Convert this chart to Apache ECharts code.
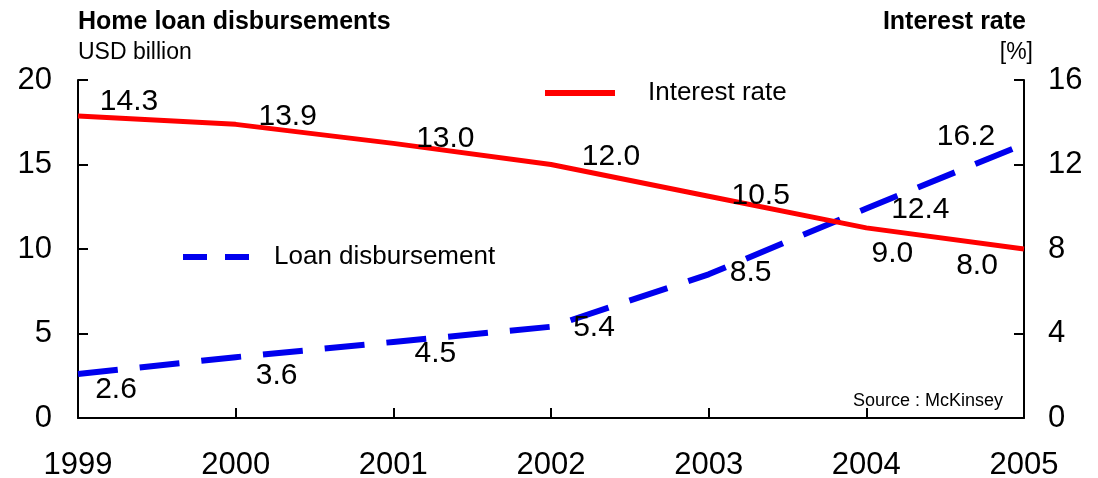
<!DOCTYPE html>
<html>
<head>
<meta charset="utf-8">
<script src="https://cdn.jsdelivr.net/npm/echarts@6/dist/echarts.min.js"></script>
<style>
  html, body { margin: 0; padding: 0; background: #fff; }
  #chart { width: 1098px; height: 478px; }
</style>
</head>
<body>
<div id="chart"></div>
<script>
// Home loan disbursements vs. interest rate, 1999-2005
const years = ['1999', '2000', '2001', '2002', '2003', '2004', '2005'];
const loanDisbursement = [2.6, 3.6, 4.5, 5.4, 8.5, 12.4, 16.2];   // USD billion
const interestRate = [14.3, 13.9, 13.0, 12.0, 10.5, 9.0, 8.0];     // %

// Value label offsets (pixels from each point)
const loanLabelOffsets = [[38, 16], [41, 19], [42, 12], [43, 1], [42, -2], [54, 1], [-58, -7]];
const rateLabelOffsets = [[51, -14], [52, -8], [52, -5], [60, -8], [52, 0], [26, 26], [-47, 17]];

const FONT = '"Liberation Sans", Arial, sans-serif';

function withLabels(values, offsets) {
  return values.map((v, i) => ({ value: v, label: { offset: offsets[i] } }));
}

const labelStyle = {
  show: true,
  position: 'inside',
  fontFamily: FONT,
  fontSize: 30,
  color: '#000',
  formatter: p => p.value.toFixed(1)
};

const chart = echarts.init(document.getElementById('chart'));
chart.setOption({
  animation: false,
  backgroundColor: '#fff',
  textStyle: { fontFamily: FONT },
  grid: { left: 78, right: 74, top: 80, bottom: 60, containLabel: false, outerBoundsMode: 'none' },
  title: [
    { text: 'Home loan disbursements', left: 73, top: 5,
      textStyle: { fontFamily: FONT, fontSize: 25, fontWeight: 'bold', color: '#000' } },
    { text: 'USD billion', left: 73, top: 36,
      textStyle: { fontFamily: FONT, fontSize: 23, fontWeight: 'normal', color: '#000' } },
    { text: 'Interest rate', right: 67, top: 5,
      textStyle: { fontFamily: FONT, fontSize: 25, fontWeight: 'bold', color: '#000' } },
    { text: '[%]', right: 60, top: 36,
      textStyle: { fontFamily: FONT, fontSize: 23, fontWeight: 'normal', color: '#000' } },
    { text: 'Source : McKinsey', right: 90, top: 387,
      textStyle: { fontFamily: FONT, fontSize: 18, fontWeight: 'normal', color: '#000' } }
  ],
  legend: [
    { data: ['Interest rate'], left: 540, top: 75, itemWidth: 70, itemHeight: 6,
      icon: 'rect', textStyle: { fontFamily: FONT, fontSize: 26, color: '#000', padding: [0, 0, 0, 28] } },
    { data: ['Loan disbursement'], left: 178, top: 239, itemWidth: 66, itemHeight: 6,
      icon: 'path://M0,0H24V6H0Z M42,0H66V6H42Z',
      textStyle: { fontFamily: FONT, fontSize: 26, color: '#000', padding: [0, 0, 0, 20] } }
  ],
  xAxis: {
    type: 'category',
    data: years,
    boundaryGap: false,
    axisLine: { lineStyle: { color: '#000', width: 2 } },
    axisTick: { inside: true, length: 10, lineStyle: { color: '#000', width: 2 } },
    axisLabel: { color: '#000', fontFamily: FONT, fontSize: 31, margin: 32 },
    splitLine: { show: false }
  },
  yAxis: [
    {
      type: 'value', min: 0, max: 20, interval: 5, position: 'left',
      axisLine: { show: true, lineStyle: { color: '#000', width: 2 } },
      axisTick: { show: true, inside: true, length: 10, lineStyle: { color: '#000', width: 2 } },
      axisLabel: { color: '#000', fontFamily: FONT, fontSize: 31, margin: 26 },
      splitLine: { show: false }
    },
    {
      type: 'value', min: 0, max: 16, interval: 4, position: 'right',
      axisLine: { show: true, lineStyle: { color: '#000', width: 2 } },
      axisTick: { show: true, inside: true, length: 10, lineStyle: { color: '#000', width: 2 } },
      axisLabel: { color: '#000', fontFamily: FONT, fontSize: 31, margin: 24 },
      splitLine: { show: false }
    }
  ],
  series: [
    {
      name: 'Interest rate',
      type: 'line',
      yAxisIndex: 1,
      data: withLabels(interestRate, rateLabelOffsets),
      symbol: 'circle',
      symbolSize: 0.1,
      itemStyle: { color: '#ff0000' },
      lineStyle: { color: '#ff0000', width: 5 },
      label: labelStyle,
      z: 3
    },
    {
      name: 'Loan disbursement',
      type: 'line',
      yAxisIndex: 0,
      data: withLabels(loanDisbursement, loanLabelOffsets),
      symbol: 'circle',
      symbolSize: 0.1,
      itemStyle: { color: '#0000ee' },
      lineStyle: { color: '#0000ee', width: 6, type: [40, 22] },
      label: labelStyle,
      z: 2
    }
  ]
});
</script>
</body>
</html>
